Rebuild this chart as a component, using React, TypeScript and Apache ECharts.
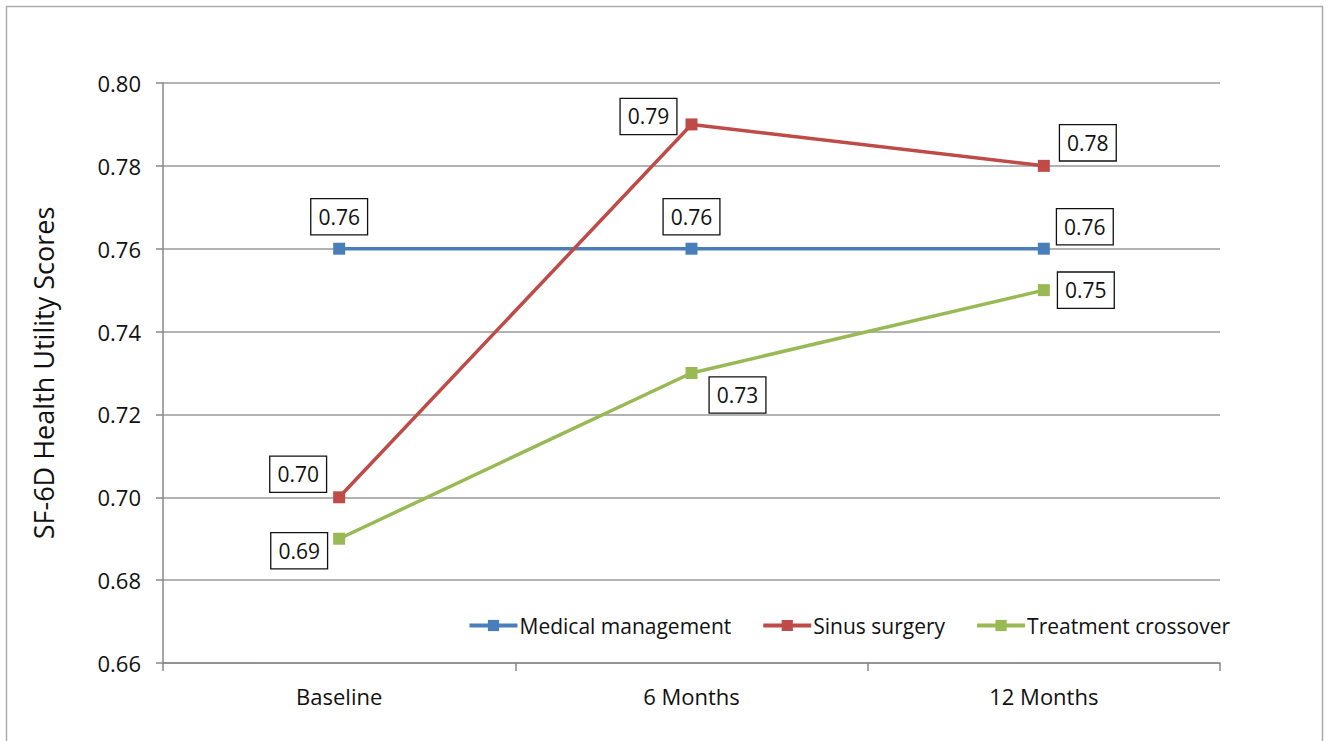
import React, { useEffect, useRef } from "react";
import * as echarts from "echarts";

const categories = ["Baseline", "6 Months", "12 Months"];
const medical = [0.76, 0.76, 0.76];
const sinus = [0.7, 0.79, 0.78];
const crossover = [0.69, 0.73, 0.75];
const seriesNames = ["Medical management", "Sinus surgery", "Treatment crossover"];

const medicalOffsets = [[0, -32], [0, -32], [41, -22]];
const sinusOffsets = [[-41, -23], [-43, -8], [44, -23]];
const crossoverOffsets = [[-40, 12], [46, 22], [42, 0]];

const FONT = "'Open Sans', 'Noto Sans', sans-serif";

function buildData(values: number[], offsets: number[][]) {
  return values.map((v, i) => ({
    value: v,
    label: { offset: offsets[i] },
  }));
}

const labelStyle = {
  show: true,
  position: "inside" as const,
  formatter: (p: any) => Number(p.value).toFixed(2),
  fontFamily: FONT,
  fontSize: 21,
  color: "#111",
  backgroundColor: "#fff",
  borderColor: "#111",
  borderWidth: 1.3,
  padding: [8, 7, 6, 7],
};

export default function App() {
  const ref = useRef<HTMLDivElement>(null);
  useEffect(() => {
    if (!ref.current) return;
    const chart = echarts.init(ref.current, undefined, { renderer: "svg" });
    const mk = (name: string, values: number[], offsets: number[][], color: string) => ({
      name,
      type: "line",
      data: buildData(values, offsets),
      symbol: "rect",
      symbolSize: 12,
      lineStyle: { color, width: 3.5 },
      itemStyle: { color },
      label: labelStyle,
      z: 3,
    });
    chart.setOption({
      animation: false,
      backgroundColor: "#fff",
      graphic: [
        {
          type: "rect",
          shape: { x: 6.5, y: 6.5, width: 1316, height: 745 },
          style: { fill: "none", stroke: "#aaa", lineWidth: 1.5 },
          silent: true,
        },
      ],
      legend: {
        data: seriesNames,
        right: 96,
        top: 610,
        itemWidth: 48,
        itemHeight: 14,
        itemGap: 30,
        lineStyle: { width: 4 },
        textStyle: { fontFamily: FONT, fontSize: 21, color: "#111", padding: [0, 0, 0, -3] },
      },
      grid: { left: 163, right: 111, top: 83, bottom: 78, containLabel: false },
      xAxis: {
        type: "category",
        data: categories,
        boundaryGap: true,
        axisLine: { lineStyle: { color: "#888", width: 1.5 } },
        axisTick: { show: true, length: 8, lineStyle: { color: "#888", width: 1.5 } },
        axisLabel: { fontFamily: FONT, fontSize: 22, color: "#111", margin: 22 },
      },
      yAxis: {
        type: "value",
        min: 0.66,
        max: 0.8,
        interval: 0.02,
        name: "SF-6D Health Utility Scores",
        nameLocation: "middle",
        nameGap: 106,
        nameTextStyle: { fontFamily: FONT, fontSize: 27, color: "#111" },
        axisLine: { show: true, lineStyle: { color: "#888", width: 1.5 } },
        axisTick: { show: true, length: 7, lineStyle: { color: "#888", width: 1.5 } },
        axisLabel: {
          fontFamily: FONT,
          fontSize: 22,
          color: "#111",
          margin: 22,
          formatter: (v: number) => v.toFixed(2),
        },
        splitLine: { lineStyle: { color: "#999", width: 1.5 } },
      },
      series: [
        mk(seriesNames[0], medical, medicalOffsets, "#4a7ebb"),
        mk(seriesNames[1], sinus, sinusOffsets, "#be4b48"),
        mk(seriesNames[2], crossover, crossoverOffsets, "#98b954"),
      ],
    });
    return () => chart.dispose();
  }, []);
  return (
    <div
      ref={ref}
      style={{ position: "fixed", left: 0, top: 0, width: 1331, height: 741, background: "#fff" }}
    />
  );
}
